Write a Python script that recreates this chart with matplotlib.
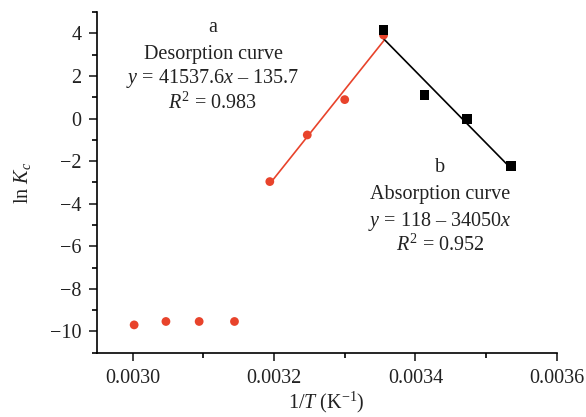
import numpy as np
import matplotlib
matplotlib.use("Agg")
import matplotlib.pyplot as plt

plt.rcParams["font.family"] = ["Liberation Serif", "DejaVu Serif"]
plt.rcParams["mathtext.fontset"] = "custom"
plt.rcParams["mathtext.rm"] = "Liberation Serif"
plt.rcParams["mathtext.it"] = "Liberation Serif:italic"

# desorption (red) points
des_x = [0.003002, 0.003047, 0.003094, 0.003144, 0.003194, 0.003247, 0.003300, 0.003355]
des_y = [-9.69, -9.53, -9.53, -9.53, -2.96, -0.77, 0.89, 3.92]

# absorption (black) points
abs_x = [0.003355, 0.003413, 0.003473, 0.003535]
abs_y = [4.15, 1.09, -0.03, -2.24]

red = "#e8432b"
fs = 14.5

fig = plt.figure(figsize=(5.86, 4.17), dpi=100)
ax = fig.add_axes([0.165, 0.154, 0.785, 0.817])

# fit lines
fx = np.array(des_x[4:])
p = np.polyfit(fx, des_y[4:], 1)
ax.plot([fx[0], fx[-1]], np.polyval(p, [fx[0], fx[-1]]), color=red, lw=1.2, zorder=2)
bx = np.array(abs_x)
q = np.polyfit(bx, abs_y, 1)
ax.plot([bx[0], bx[-1]], np.polyval(q, [bx[0], bx[-1]]), color="black", lw=1.2, zorder=2)

ax.scatter(des_x, des_y, color=red, s=40, zorder=3, edgecolors="none")
ax.scatter(abs_x, abs_y, color="black", marker="s", s=50, zorder=4, edgecolors="none")

ax.set_xlim(0.002949, 0.0036)
ax.set_ylim(-11, 5)
ax.set_xticks([0.0030, 0.0032, 0.0034, 0.0036])
ax.set_xticklabels(["0.0030", "0.0032", "0.0034", "0.0036"])
ax.set_xticks([0.0031, 0.0033, 0.0035], minor=True)
ax.set_yticks([-10, -8, -6, -4, -2, 0, 2, 4])
ax.set_yticklabels(["\u221210", "\u22128", "\u22126", "\u22124", "\u22122", "0", "2", "4"])
ax.set_yticks([-11, -9, -7, -5, -3, -1, 1, 3, 5], minor=True)

for s in ["top", "right"]:
    ax.spines[s].set_visible(False)
for s in ["left", "bottom"]:
    ax.spines[s].set_linewidth(1.2)
ax.tick_params(which="major", direction="out", length=6, width=1.2, labelsize=fs, colors="#222222")
ax.tick_params(which="minor", direction="out", length=3.5, width=1.2)
ax.tick_params(axis="x", pad=6)
ax.tick_params(axis="y", pad=5)

ax.set_xlabel("1/$\\mathit{T}$ (K$^{\u22121}$)", fontsize=fs, color="#222222", labelpad=1)
ax.set_ylabel("ln $\\mathit{K}_{\\mathit{c}}$", fontsize=fs, color="#222222", labelpad=12)

txt = dict(fontsize=fs, ha="center", va="center", color="#222222", transform=fig.transFigure)
fig.text(213 / 586, 1 - 27 / 417, "a", **txt)
fig.text(213 / 586, 1 - 54 / 417, "Desorption curve", **txt)
fig.text(213 / 586, 1 - 79 / 417, "$\\mathit{y}$ = 41537.6$\\mathit{x}$ \u2013 135.7", **txt)
fig.text(213 / 586, 1 - 103 / 417, "$\\mathit{R}^2$ = 0.983", **txt)
fig.text(440 / 586, 1 - 168 / 417, "b", **txt)
fig.text(440 / 586, 1 - 195 / 417, "Absorption curve", **txt)
fig.text(440 / 586, 1 - 221 / 417, "$\\mathit{y}$ = 118 \u2013 34050$\\mathit{x}$", **txt)
fig.text(440 / 586, 1 - 245 / 417, "$\\mathit{R}^2$ = 0.952", **txt)

fig.savefig("out.png", dpi=100)
